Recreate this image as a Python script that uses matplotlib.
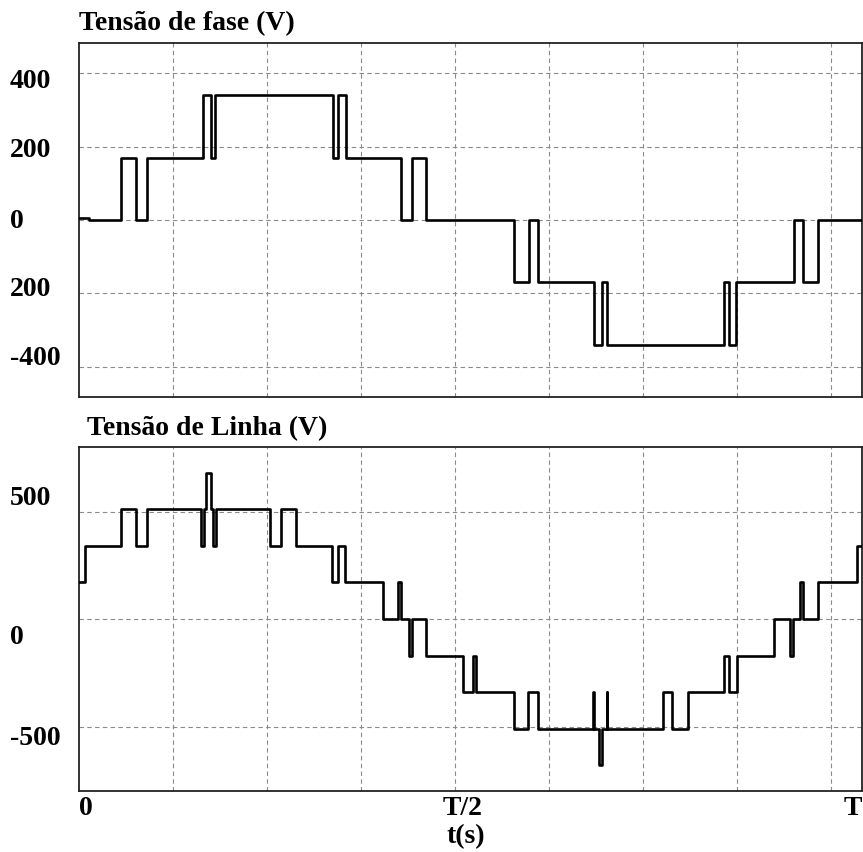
import numpy as np
import matplotlib.pyplot as plt
import matplotlib.transforms as mtransforms

plt.rcParams['font.family'] = ['Liberation Serif', 'DejaVu Serif']
plt.rcParams['font.weight'] = 'bold'

# time axis in ms, one period T = 20 ms
T = 20.0

# phase voltage: switching instants (ms) and level held after each instant (V)
t_fase = [0.0, 0.25, 1.065, 1.448, 1.729, 3.167, 3.364, 3.466, 6.488, 6.616, 6.812,
          8.217, 8.513, 8.856, 11.111, 11.494, 11.732, 13.162, 13.367, 13.479,
          16.475, 16.61, 16.782, 18.263, 18.5, 18.884, 20.0]
v_fase = [5, 0, 170, 0, 170, 340, 170, 340, 170, 340, 170,
          0, 170, 0, -170, 0, -170, -340, -170, -340,
          -170, -340, -170, 0, -170, 0, 0]

# line voltage
t_linha = [0.0, 0.146, 1.080, 1.448, 1.745, 3.11, 3.19, 3.244, 3.372, 3.425, 3.505,
           4.871, 5.167, 5.550, 6.462, 6.616, 6.787, 7.757, 8.139, 8.219, 8.422, 8.502,
           8.856, 9.801, 10.054, 10.134, 11.111, 11.476, 11.732, 13.137, 13.149,
           13.28, 13.36, 13.474, 13.487, 14.909, 15.155, 15.548, 16.483, 16.61,
           16.799, 17.760, 18.161, 18.250, 18.422, 18.502, 18.884, 19.865, 20.0]
v_linha = [170, 340, 510, 340, 510, 340, 510, 680, 510, 340, 510,
           340, 510, 340, 170, 340, 170, 0, 170, 0, -170, 0,
           -170, -340, -170, -340, -510, -340, -510, -340, -510,
           -680, -510, -340, -510, -340, -510, -340, -170, -340,
           -170, 0, -170, 0, 170, 0, 170, 340, 340]

grid_x = [2.4, 4.8, 7.2, 9.6, 12.0, 14.4, 16.8, 19.2]
grid_fase = [-400, -200, 0, 200, 400]
grid_linha = [-500, 0, 500]

# tick texts and where they sit (the source plot offsets them from the grid)
lab_fase = ['400', '200', '0', '200', '-400']
lab_fase_pos = [376, 188, -3, -188, -378]
lab_linha = ['500', '0', '-500']
lab_linha_pos = [560, -86, -558]

W, H = 863, 852
fig = plt.figure(figsize=(W / 100, H / 100), dpi=100)
ax1 = fig.add_axes([79 / W, 1 - 397 / H, 783 / W, 354 / H])
ax2 = fig.add_axes([79 / W, 1 - 791 / H, 783 / W, 344 / H])

for ax, t, v, gy, ylim, labs, lpos in [
        (ax1, t_fase, v_fase, grid_fase, 482, lab_fase, lab_fase_pos),
        (ax2, t_linha, v_linha, grid_linha, 800, lab_linha, lab_linha_pos)]:
    ax.step(t, v, where='post', color='black', lw=1.9, zorder=3)
    ax.set_xlim(0, T)
    ax.set_ylim(-ylim, ylim)
    ax.set_xticks(grid_x)
    ax.set_yticks(gy)
    ax.grid(True, color='#8a8a8a', ls=(0, (4, 3)), lw=0.8)
    ax.tick_params(length=0, labelleft=False, labelbottom=False)
    for s in ax.spines.values():
        s.set_linewidth(1.3)
        s.set_color('#222222')
    tr = mtransforms.blended_transform_factory(fig.transFigure, ax.transData)
    for lab, p in zip(labs, lpos):
        fig.text(10 / W, p, lab, transform=tr, ha='left', va='center',
                 fontsize=20, fontweight='bold')

fig.text(79 / W, 1 - 30 / H, 'Tensão de fase (V)', ha='left', va='baseline',
         fontsize=20, fontweight='bold')
fig.text(87 / W, 1 - 435 / H, 'Tensão de Linha (V)', ha='left', va='baseline',
         fontsize=20, fontweight='bold')

# x axis labels
fig.text(79 / W, 1 - 796 / H, '0', ha='left', va='top', fontsize=20, fontweight='bold')
fig.text(463 / W, 1 - 796 / H, 'T/2', ha='center', va='top', fontsize=20, fontweight='bold')
fig.text(862 / W, 1 - 796 / H, 'T', ha='right', va='top', fontsize=20, fontweight='bold')
fig.text(466 / W, 1 - 824 / H, 't(s)', ha='center', va='top', fontsize=20, fontweight='bold')

fig.savefig('out.png', dpi=100)
